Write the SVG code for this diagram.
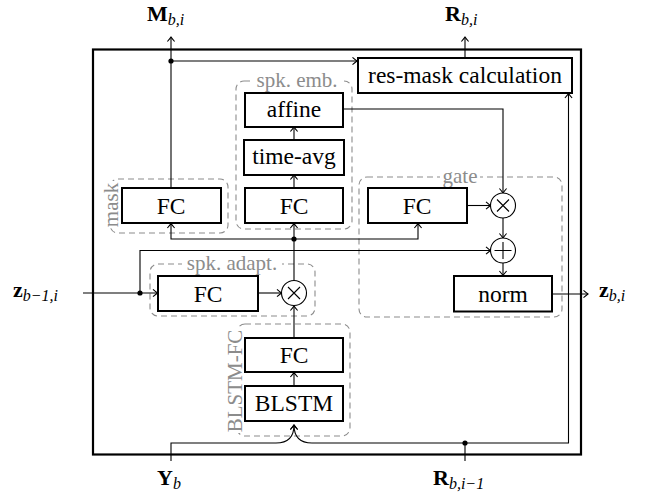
<svg xmlns="http://www.w3.org/2000/svg" width="645" height="494" viewBox="0 0 645 494">
<style>
.box{fill:#fff;stroke:#000;stroke-width:2}
.grp{fill:none;stroke:#8c8c8c;stroke-width:1.1;stroke-dasharray:6,4}
.lbl{font-family:"Liberation Serif","Times New Roman",serif;font-size:23.5px;fill:#000;text-anchor:middle}
.glbl{font-family:"Liberation Serif","Times New Roman",serif;font-size:21px;fill:#8c8c8c;text-anchor:middle}
.math{font-family:"Liberation Serif","Times New Roman",serif;font-size:22px;fill:#000}
.bold{font-weight:bold}
.sub{font-style:italic;font-size:16px}
.ln{fill:none;stroke:#000;stroke-width:1.1}
.op{fill:#fff;stroke:#000;stroke-width:1.1}
.wb{fill:#fff;stroke:none}
</style>
<defs>
<marker id="arr" markerUnits="userSpaceOnUse" markerWidth="12" markerHeight="12" viewBox="-6 -6 12 12" refX="0" refY="0" orient="auto">
<path d="M-4.5,-3.6 Q-1.5,-1 0,0 Q-1.5,1 -4.5,3.6" fill="none" stroke="#000" stroke-width="1.1"/>
</marker>
</defs>
<rect width="645" height="494" fill="#fff"/>
<!-- outer frame -->
<rect id="frame" x="93" y="49.5" width="488" height="405" fill="none" stroke="#000" stroke-width="2.2"/>

<!-- group containers -->
<g id="grp-spk-emb">
<rect class="grp" x="236" y="81" width="116" height="148" rx="8"/>
<rect class="wb" x="253" y="70" width="88" height="20"/>
<text class="glbl" x="297" y="87">spk. emb.</text>
</g>
<g id="grp-mask">
<rect class="grp" x="110" y="179" width="118" height="54" rx="8"/>
<rect class="wb" x="100" y="181" width="20" height="46"/>
<text class="glbl" transform="translate(118,205) rotate(-90)">mask</text>
</g>
<g id="grp-gate">
<rect class="grp" x="359" y="177" width="203" height="140" rx="8"/>
<rect class="wb" x="440" y="166" width="40" height="18"/>
<text class="glbl" x="460" y="183">gate</text>
</g>
<g id="grp-spk-adapt">
<rect class="grp" x="150" y="264" width="165" height="52" rx="8"/>
<rect class="wb" x="182" y="253" width="100" height="20"/>
<text class="glbl" x="232" y="270">spk. adapt.</text>
</g>
<g id="grp-blstm-fc">
<rect class="grp" x="237" y="324" width="113" height="112" rx="8"/>
<rect class="wb" x="224" y="329" width="20" height="104"/>
<text class="glbl" transform="translate(241.5,381) rotate(-90)">BLSTM-FC</text>
</g>

<!-- connectors -->
<g id="connectors">
<path class="ln" d="M171,188 V37" marker-end="url(#arr)"/>
<path class="ln" d="M171,61 H357" marker-end="url(#arr)"/>
<path class="ln" d="M465,58 V37" marker-end="url(#arr)"/>
<path class="ln" d="M343,109 H503 V193" marker-end="url(#arr)"/>
<path class="ln" d="M294,140 V127" marker-end="url(#arr)"/>
<path class="ln" d="M294,188 V175" marker-end="url(#arr)"/>
<path class="ln" d="M294,281 V223.5" marker-end="url(#arr)"/>
<path class="ln" d="M294,239 H171 V223.5" marker-end="url(#arr)"/>
<path class="ln" d="M294,239 H418 V223.5" marker-end="url(#arr)"/>
<path class="ln" d="M294,338 V306" marker-end="url(#arr)"/>
<path class="ln" d="M294,386 V372.5" marker-end="url(#arr)"/>
<path class="ln" d="M83,293 H157.5" marker-end="url(#arr)"/>
<path class="ln" d="M140,293 V250.5 H490.5" marker-end="url(#arr)"/>
<path class="ln" d="M258,293 H281.5" marker-end="url(#arr)"/>
<path class="ln" d="M467,205.5 H490.5" marker-end="url(#arr)"/>
<path class="ln" d="M503,218 V238" marker-end="url(#arr)"/>
<path class="ln" d="M503,263 V275.5" marker-end="url(#arr)"/>
<path class="ln" d="M552,294 H588" marker-end="url(#arr)"/>
<path class="ln" d="M171,461 V443 H276 C288,443 294,437 294,425" marker-end="url(#arr)"/>
<path class="ln" d="M465,461 V443 H312 C300,443 294,437 294,425" marker-end="url(#arr)"/>
<path class="ln" d="M465,443 H568.5 V93.5" marker-end="url(#arr)"/>
<circle cx="171" cy="61" r="2.6"/>
<circle cx="294" cy="239" r="2.6"/>
<circle cx="140" cy="293" r="2.6"/>
<circle cx="465" cy="443" r="2.6"/>
</g>

<!-- nodes -->
<g id="res-mask">
<rect class="box" x="358" y="58" width="214" height="35"/>
<text class="lbl" x="465" y="83">res-mask calculation</text>
</g>
<g id="affine">
<rect class="box" x="245" y="93" width="98" height="34"/>
<text class="lbl" x="294" y="117">affine</text>
</g>
<g id="time-avg">
<rect class="box" x="244" y="140" width="100" height="35"/>
<text class="lbl" x="294" y="164">time-avg</text>
</g>
<g id="emb-fc">
<rect class="box" x="245" y="188" width="98" height="35"/>
<text class="lbl" x="294" y="214">FC</text>
</g>
<g id="mask-fc">
<rect class="box" x="122" y="188" width="99" height="35"/>
<text class="lbl" x="171" y="214">FC</text>
</g>
<g id="gate-fc">
<rect class="box" x="368" y="188" width="99" height="35"/>
<text class="lbl" x="417" y="214">FC</text>
</g>
<g id="gate-mul">
<circle class="op" cx="503" cy="205.5" r="12.5"/>
<path class="ln" d="M497,199.5 L509,211.5 M509,199.5 L497,211.5"/>
</g>
<g id="gate-add">
<circle class="op" cx="503" cy="250.5" r="12.5"/>
<path class="ln" d="M503,242 V259 M494.5,250.5 H511.5"/>
</g>
<g id="norm">
<rect class="box" x="454" y="276" width="98" height="35.5"/>
<text class="lbl" x="503" y="302">norm</text>
</g>
<g id="adapt-fc">
<rect class="box" x="158" y="276" width="100" height="35"/>
<text class="lbl" x="208" y="302">FC</text>
</g>
<g id="adapt-mul">
<circle class="op" cx="294" cy="293" r="12.5"/>
<path class="ln" d="M288,287 L300,299 M300,287 L288,299"/>
</g>
<g id="blstm-fc">
<rect class="box" x="245" y="338" width="98" height="34"/>
<text class="lbl" x="294" y="363">FC</text>
</g>
<g id="blstm">
<rect class="box" x="245" y="386" width="98" height="35"/>
<text class="lbl" x="294" y="411">BLSTM</text>
</g>

<!-- math labels -->
<g id="labels">
<text class="math" x="147" y="21"><tspan class="bold">M</tspan><tspan class="sub" dy="4">b,i</tspan></text>
<text class="math" x="445" y="21"><tspan class="bold">R</tspan><tspan class="sub" dy="4">b,i</tspan></text>
<text class="math" x="13" y="297"><tspan class="bold">z</tspan><tspan class="sub" dy="4">b−1,i</tspan></text>
<text class="math" x="599" y="297"><tspan class="bold">z</tspan><tspan class="sub" dy="4">b,i</tspan></text>
<text class="math" x="157" y="485"><tspan class="bold">Y</tspan><tspan class="sub" dy="4">b</tspan></text>
<text class="math" x="433" y="485"><tspan class="bold">R</tspan><tspan class="sub" dy="4">b,i−1</tspan></text>
</g>
</svg>
